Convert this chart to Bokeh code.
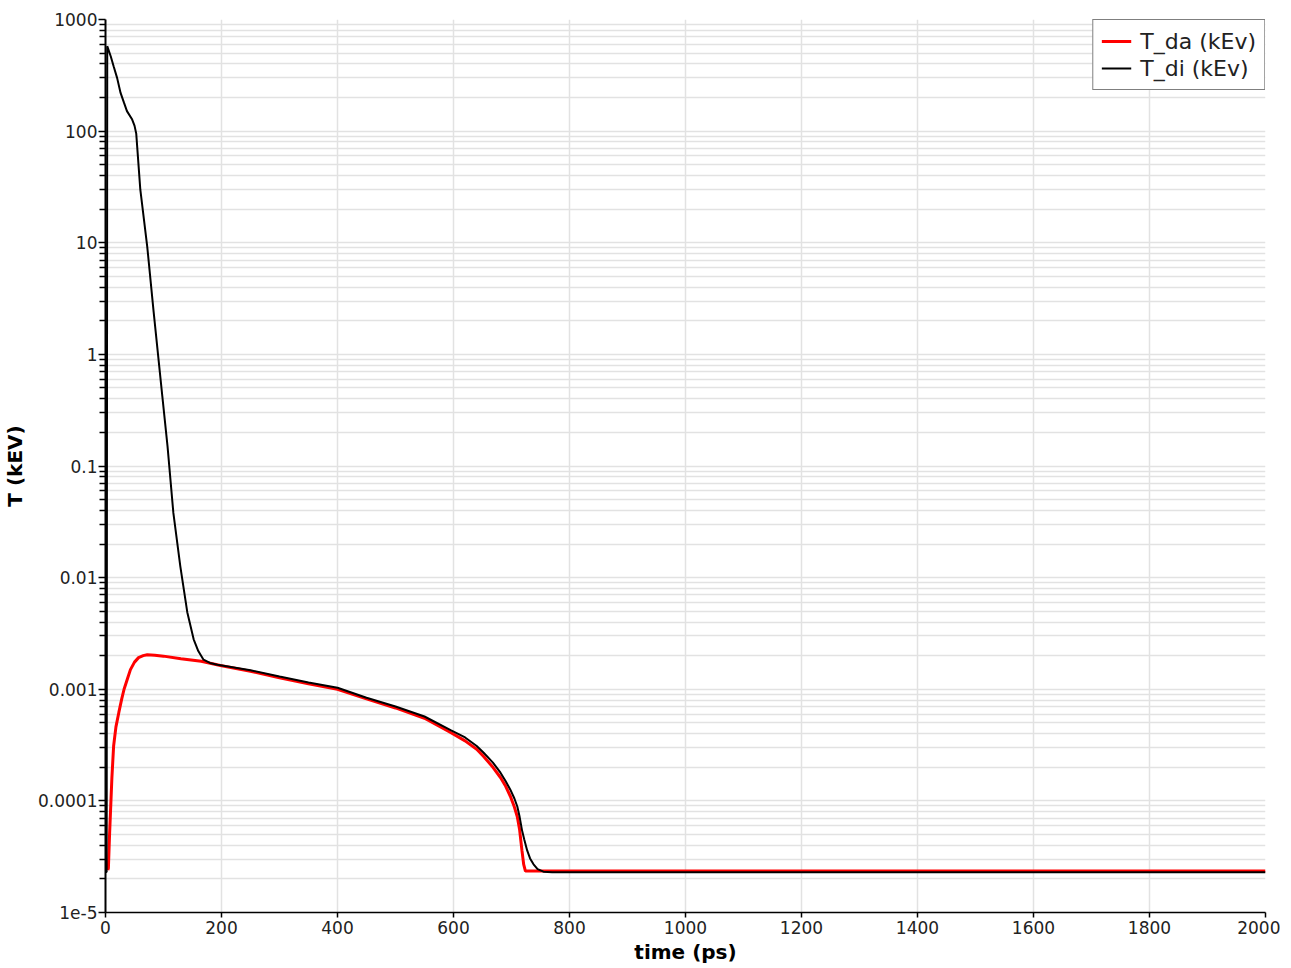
from bokeh.plotting import figure
from bokeh.models import Range1d, FixedTicker, SingleIntervalTicker, CustomJSTickFormatter, Legend, LegendItem
from bokeh.embed import file_html
from bokeh.resources import INLINE

# ---- data ----
t_di_time = [0, 2, 3, 9, 14, 20, 26, 32, 37, 46, 50, 53, 60, 72, 83, 98, 107, 117,
             129, 141, 152, 160, 169, 180, 193,
             250, 300, 350, 400, 450, 500, 550, 595, 620, 640, 652, 668, 681, 690, 698,
             705, 710, 714, 718, 722, 727, 732, 738, 745, 755, 770, 800, 1000, 1500, 2000]
t_di_val = [2.3e-5, 2.3e-5, 577, 469, 381, 300, 220, 179, 151, 127, 112, 95, 30, 9.2,
            2.4, 0.42, 0.149, 0.038, 0.0126, 0.0049, 0.0028, 0.0022, 0.00184, 0.00172,
            0.00166,
            0.00148, 0.0013, 0.00115, 0.00103, 0.00084, 0.0007, 0.00057, 0.00043,
            3.7e-4, 3.1e-4, 2.7e-4, 2.2e-4, 1.79e-4, 1.5e-4, 1.26e-4, 1.05e-4, 8.9e-5,
            7.2e-5, 5.5e-5, 4.5e-5, 3.6e-5, 3.05e-5, 2.7e-5, 2.45e-5, 2.32e-5, 2.29e-5,
            2.29e-5, 2.29e-5, 2.29e-5, 2.29e-5]

t_da_time = [4, 5, 7, 9, 11, 14, 18, 23, 28, 32, 38, 43, 50, 57, 65, 72, 85, 100, 130,
             165, 198, 250, 300, 350, 400, 450, 500, 550, 595, 620, 640, 652, 668, 681,
             690, 698, 705, 710, 714, 718, 721, 724, 800, 1000, 1500, 2000]
t_da_val = [2.4e-5, 2.5e-5, 5e-5, 8.9e-5, 1.6e-4, 3.1e-4, 4.6e-4, 6.2e-4, 8.2e-4,
            1.0e-3, 1.25e-3, 1.5e-3, 1.75e-3, 1.92e-3, 2.0e-3, 2.04e-3, 2.02e-3,
            1.98e-3, 1.88e-3, 1.78e-3, 1.63e-3, 1.45e-3, 1.27e-3, 1.12e-3, 1.0e-3,
            8.2e-4, 6.8e-4, 5.5e-4, 4.1e-4, 3.45e-4, 2.9e-4, 2.5e-4, 2.0e-4, 1.62e-4,
            1.35e-4, 1.1e-4, 8.8e-5, 7.2e-5, 5.5e-5, 3.6e-5, 2.7e-5, 2.35e-5,
            2.35e-5, 2.35e-5, 2.35e-5, 2.35e-5]

y_exponents = [-5, -4, -3, -2, -1, 0, 1, 2, 3]
y_tick_labels = ["1e-5", "0.0001", "0.001", "0.01", "0.1", "1", "10", "100", "1000"]
series_names = ["T_da (kEv)", "T_di (kEv)"]

FONT = "DejaVu Sans"
GRID = "#e2e2e2"

p = figure(width=1280, height=966, output_backend="svg", toolbar_location=None,
           y_axis_type="log", x_range=Range1d(0, 2000), y_range=Range1d(1e-5, 1000),
           min_border_left=105, min_border_right=15, min_border_top=19, min_border_bottom=54)
p.outline_line_color = None
p.background_fill_color = "white"

r_da = p.line(t_da_time, t_da_val, line_color="#ff0000", line_width=3)
r_di = p.line(t_di_time, t_di_val, line_color="black", line_width=2)

# y axis ticks
major = [10.0 ** e for e in y_exponents]
minor = [m * 10.0 ** e for e in y_exponents[:-1] for m in range(2, 10)]
p.yaxis.ticker = FixedTicker(ticks=major, minor_ticks=minor)
p.yaxis.formatter = CustomJSTickFormatter(
    args=dict(exps=y_exponents, labels=y_tick_labels),
    code="const e = Math.round(Math.log10(tick)); const i = exps.indexOf(e); return i >= 0 ? labels[i] : '';")
p.xaxis.ticker = SingleIntervalTicker(interval=200, num_minor_ticks=0)

for ax in (p.xaxis[0], p.yaxis[0]):
    ax.axis_line_color = "black"
    ax.major_tick_line_color = "black"
    ax.minor_tick_line_color = "black"
    ax.major_tick_in = 0
    ax.minor_tick_in = 0
    ax.major_label_text_font = FONT
    ax.major_label_text_font_size = "17px"
    ax.major_label_text_color = "#222222"
    ax.axis_label_text_font = FONT
    ax.axis_label_text_font_style = "bold"
    ax.axis_label_text_font_size = "20px"
    ax.axis_label_text_color = "black"

p.yaxis.axis_line_width = 2
p.xaxis.axis_line_width = 1.5
p.yaxis.major_tick_out = 7
p.yaxis.minor_tick_out = 6
p.yaxis.major_tick_line_width = 1.5
p.yaxis.minor_tick_line_width = 1.5
p.xaxis.major_tick_out = 5
p.xaxis.major_tick_line_width = 1.5
p.xaxis.minor_tick_line_color = None
p.yaxis.major_label_standoff = 1
p.xaxis.major_label_standoff = 3
p.yaxis.axis_label = "T (kEV)"
p.xaxis.axis_label = "time (ps)"
p.yaxis.axis_label_standoff = 8
p.xaxis.axis_label_standoff = 3

p.xgrid.grid_line_color = GRID
p.xgrid.grid_line_width = 1.5
p.ygrid.grid_line_color = GRID
p.ygrid.grid_line_width = 1.5
p.ygrid.minor_grid_line_color = GRID
p.ygrid.minor_grid_line_width = 1.5

legend = Legend(items=[LegendItem(label=series_names[0], renderers=[r_da]),
                       LegendItem(label=series_names[1], renderers=[r_di])],
                location="top_right")
legend.margin = 0
legend.padding = 8
legend.spacing = 1
legend.border_line_color = "black"
legend.border_line_width = 1.2
legend.background_fill_alpha = 1
legend.label_text_font = FONT
legend.label_text_font_size = "22px"
legend.label_text_color = "#222222"
legend.glyph_width = 30
legend.glyph_height = 26
legend.label_height = 26
legend.label_standoff = 9
p.add_layout(legend)

open("out.html", "w").write(file_html(p, INLINE))
